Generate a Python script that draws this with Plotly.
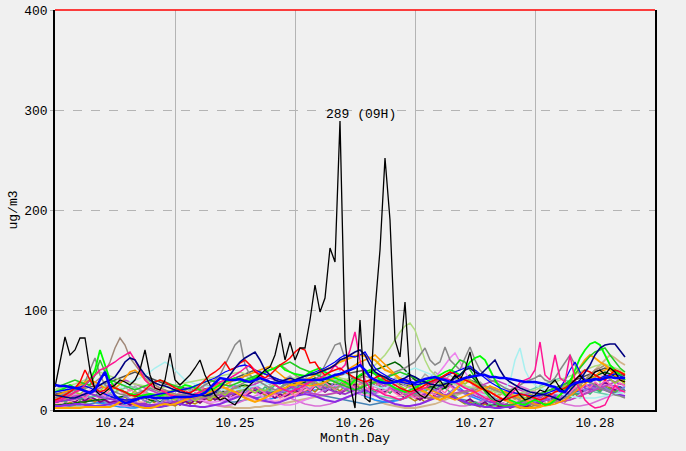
import plotly.graph_objects as go

# hourly PM values, 10.24 00H .. 10.28 18H (115 hours)
day_labels = ["10.24", "10.25", "10.26", "10.27", "10.28"]
day_centers = [12, 36, 60, 84, 108]

black_stn = [
    23, 50, 73, 55, 60, 72, 72, 40, 20, 15, 18, 22,
    25, 30, 28, 25, 30, 40, 60, 35, 22, 20, 30, 57,
    30, 25, 30, 35, 42, 50, 35, 25, 15, 10, 12, 8,
    5, 12, 20, 25, 30, 35, 40, 43, 55, 77, 50, 68,
    50, 62, 62, 90, 125, 98, 112, 162, 148, 289, 70, 25,
    2, 90, 12, 8, 100, 160, 252, 190, 70, 53, 108, 30,
    20, 15, 12, 18, 25, 30, 22, 28, 35, 30, 40, 58,
    35, 25, 20, 15, 10, 8, 12, 18, 22, 15, 10, 12,
    15, 20, 18, 25, 30, 22, 18, 25, 30, 35, 28, 32,
    38, 40, 35, 42, 38, 30, 28,
]
blue_stn = [
    25, 24, 24, 23, 22, 21, 19, 17, 20, 30, 38, 23,
    14, 10, 7, 8, 10, 12, 13, 13, 12, 12, 12, 12,
    13, 13, 13, 13, 14, 15, 17, 22, 28, 32, 31, 30,
    30, 31, 29, 28, 30, 32, 30, 28, 27, 27, 28, 28,
    29, 30, 30, 30, 30, 30, 31, 33, 35, 36, 38, 40,
    42, 45, 40, 33, 30, 28, 27, 27, 28, 29, 30, 28,
    27, 29, 31, 32, 33, 31, 30, 28, 28, 30, 32, 33,
    34, 35, 35, 33, 33, 32, 32, 31, 30, 29, 28, 28,
    28, 27, 26, 24, 23, 19, 18, 24, 27, 28, 29, 30,
    31, 30, 32, 33, 32, 32, 32,
]
navy_stn = [
    15, 14, 13, 12, 12, 14, 16, 18, 22, 25, 28, 30,
    33, 40, 48, 52, 50, 42, 35, 30, 27, 25, 24, 22,
    20, 18, 17, 16, 15, 15, 14, 15, 18, 22, 28, 35,
    42, 48, 52, 55, 58, 50, 40, 35, 30, 28, 30, 32,
    30, 32, 34, 35, 36, 38, 40, 42, 45, 50, 52, 55,
    58, 60, 55, 45, 38, 35, 33, 30, 28, 30, 32, 35,
    33, 30, 28, 26, 25, 24, 26, 28, 32, 35, 40, 42,
    38, 35, 40, 45, 50, 40, 32, 28, 25, 22, 20, 18,
    17, 16, 15, 14, 12, 10, 14, 20, 25, 30, 38, 45,
    55, 62, 65, 66, 66, 60, 53,
]
red_stn = [
    10, 12, 15, 18, 22, 28, 40, 30, 22, 18, 20, 25,
    22, 20, 18, 15, 14, 16, 20, 25, 28, 30, 28, 25,
    22, 20, 18, 17, 20, 25, 30, 35, 38, 42, 48, 40,
    42, 47, 50, 45, 38, 35, 32, 35, 40, 45, 48, 52,
    58, 62, 60, 47, 48, 40, 35, 38, 40, 42, 38, 35,
    32, 30, 28, 30, 32, 35, 30, 28, 25, 22, 20, 18,
    20, 22, 25, 28, 30, 32, 35, 38, 36, 33, 30, 28,
    25, 22, 20, 18, 15, 12, 10, 12, 14, 16, 15, 13,
    12, 10, 12, 15, 18, 20, 22, 25, 30, 35, 40, 38,
    35, 32, 30, 35, 40, 38, 35,
]
pink_stn = [
    8, 10, 12, 15, 18, 20, 25, 30, 35, 40, 42, 45,
    48, 52, 55, 58, 50, 40, 30, 25, 22, 20, 18, 15,
    14, 13, 12, 14, 16, 18, 20, 22, 25, 28, 30, 32,
    35, 38, 42, 45, 40, 35, 30, 28, 25, 22, 20, 18,
    20, 22, 25, 28, 30, 32, 35, 38, 45, 40, 45, 60,
    78, 50, 30, 22, 20, 18, 15, 14, 12, 10, 12, 15,
    18, 20, 22, 25, 28, 30, 32, 30, 28, 25, 22, 20,
    18, 15, 12, 10, 8, 10, 12, 15, 20, 28, 30, 32,
    40, 68, 35, 30, 55, 32, 28, 55, 30, 20, 10, 5,
    2, 3, 5, 15, 25, 20, 18,
]
lime_stn = [
    18, 20, 22, 25, 22, 20, 25, 30, 40, 60, 45, 30,
    22, 20, 18, 16, 15, 14, 15, 16, 15, 14, 16, 18,
    20, 22, 25, 24, 22, 20, 18, 20, 22, 25, 28, 30,
    32, 30, 28, 30, 32, 35, 38, 40, 42, 45, 40, 38,
    36, 35, 34, 38, 40, 42, 38, 35, 32, 30, 28, 25,
    30, 35, 38, 40, 36, 30, 28, 25, 22, 20, 18, 20,
    22, 25, 28, 30, 32, 35, 38, 40, 38, 35, 40, 48,
    52, 54, 50, 40, 30, 22, 15, 10, 8, 6, 5, 8,
    10, 8, 5, 6, 10, 15, 20, 28, 40, 52, 60, 66,
    68, 65, 55, 45, 40, 35, 30,
]
green_stn = [
    25, 24, 26, 28, 30, 28, 26, 25, 35, 50, 38, 30,
    28, 26, 24, 22, 20, 22, 24, 26, 28, 30, 28, 26,
    24, 22, 20, 22, 24, 26, 28, 30, 28, 26, 25, 24,
    26, 28, 30, 32, 34, 36, 38, 40, 42, 44, 46, 48,
    45, 42, 40, 38, 36, 34, 32, 30, 28, 26, 24, 22,
    20, 22, 24, 26, 28, 30, 32, 34, 36, 38, 36, 34,
    32, 30, 28, 26, 28, 30, 34, 38, 44, 50, 48, 40,
    32, 25, 18, 12, 8, 5, 4, 5, 6, 8, 10, 12,
    14, 16, 18, 20, 22, 24, 26, 30, 36, 42, 48, 54,
    58, 60, 62, 55, 48, 42, 38,
]
orange_stn = [
    2, 2, 2, 2, 2, 2, 3, 3, 3, 3, 3, 3,
    5, 8, 10, 8, 5, 3, 2, 2, 3, 5, 6, 5,
    6, 8, 10, 12, 15, 18, 20, 22, 24, 25, 22, 20,
    18, 15, 12, 10, 8, 10, 12, 15, 18, 20, 22, 25,
    25, 28, 30, 32, 35, 38, 40, 42, 45, 48, 50, 52,
    54, 55, 54, 52, 50, 45, 40, 38, 35, 30, 28, 25,
    22, 20, 18, 15, 12, 10, 12, 15, 20, 25, 30, 28,
    25, 22, 20, 18, 15, 12, 10, 8, 5, 3, 2, 2,
    2, 3, 5, 8, 10, 15, 20, 28, 35, 42, 50, 55,
    52, 48, 45, 40, 35, 30, 28,
]
darkorange_stn = [
    15, 16, 18, 20, 22, 25, 28, 30, 28, 25, 22, 20,
    22, 26, 32, 38, 40, 36, 30, 26, 22, 20, 18, 16,
    14, 13, 12, 12, 13, 14, 16, 18, 20, 22, 25, 28,
    30, 32, 34, 36, 38, 40, 42, 44, 40, 36, 32, 30,
    28, 26, 25, 24, 25, 26, 28, 30, 32, 35, 38, 42,
    45, 48, 50, 52, 55, 50, 45, 40, 36, 32, 30, 28,
    26, 24, 22, 20, 18, 16, 14, 12, 10, 12, 14, 16,
    18, 20, 22, 24, 22, 20, 18, 16, 14, 12, 10, 8,
    6, 5, 4, 5, 6, 8, 10, 14, 18, 22, 26, 30,
    34, 38, 40, 42, 40, 38, 36,
]
gray_stn = [
    12, 14, 16, 18, 20, 22, 28, 40, 52, 35, 25, 20,
    18, 16, 15, 14, 16, 18, 20, 22, 20, 18, 16, 15,
    14, 15, 16, 18, 20, 22, 25, 28, 30, 35, 45, 55,
    65, 70, 45, 35, 30, 28, 25, 22, 20, 22, 25, 28,
    30, 32, 30, 28, 30, 35, 45, 55, 65, 67, 50, 35,
    30, 28, 26, 25, 28, 30, 32, 35, 38, 40, 42, 45,
    48, 55, 62, 50, 45, 48, 63, 50, 45, 40, 52, 63,
    50, 40, 35, 30, 28, 25, 22, 20, 22, 25, 28, 30,
    32, 35, 30, 28, 32, 40, 48, 55, 45, 35, 30, 28,
    25, 22, 20, 18, 15, 14, 12,
]
brown_stn = [
    10, 12, 14, 15, 18, 20, 22, 25, 28, 32, 38, 48,
    62, 72, 65, 52, 45, 38, 32, 28, 25, 22, 20, 18,
    16, 15, 14, 13, 12, 12, 13, 14, 15, 16, 18, 20,
    22, 25, 28, 30, 32, 35, 38, 40, 42, 45, 42, 38,
    35, 32, 30, 28, 26, 25, 24, 23, 22, 24, 26, 28,
    30, 32, 34, 32, 30, 28, 26, 24, 22, 20, 18, 16,
    15, 14, 13, 12, 12, 13, 14, 15, 16, 17, 18, 19,
    20, 22, 24, 22, 20, 18, 16, 14, 12, 10, 8, 6,
    5, 4, 5, 6, 8, 10, 12, 15, 20, 25, 30, 35,
    40, 42, 45, 42, 38, 35, 32,
]
lightgreen_stn = [
    20, 22, 24, 25, 26, 28, 30, 32, 35, 38, 36, 34,
    32, 30, 28, 27, 26, 25, 24, 23, 22, 22, 23, 24,
    25, 26, 27, 28, 29, 30, 31, 32, 33, 34, 35, 36,
    37, 38, 36, 34, 32, 30, 29, 28, 28, 29, 30, 31,
    32, 33, 34, 35, 36, 36, 35, 34, 33, 32, 31, 30,
    30, 32, 35, 40, 45, 50, 55, 62, 70, 78, 84, 87,
    80, 65, 50, 40, 35, 32, 30, 28, 26, 25, 24, 23,
    22, 21, 20, 19, 18, 17, 16, 15, 16, 17, 18, 19,
    20, 22, 24, 26, 28, 30, 32, 34, 36, 38, 40, 42,
    44, 45, 46, 44, 42, 40, 38,
]
cyan_stn = [
    20, 21, 22, 23, 24, 25, 26, 27, 28, 26, 24, 22,
    20, 22, 25, 28, 30, 32, 35, 38, 42, 45, 48, 45,
    40, 35, 30, 28, 26, 25, 24, 23, 22, 21, 20, 20,
    20, 21, 22, 23, 24, 25, 26, 27, 28, 29, 30, 31,
    32, 33, 34, 35, 36, 37, 38, 39, 40, 38, 36, 34,
    32, 30, 28, 26, 24, 22, 22, 24, 28, 32, 36, 40,
    42, 40, 38, 36, 34, 32, 30, 28, 26, 24, 22, 20,
    18, 16, 15, 14, 15, 18, 22, 28, 50, 62, 40, 30,
    25, 22, 20, 18, 17, 16, 15, 14, 13, 12, 12, 12,
    12, 13, 14, 15, 16, 17, 18,
]
thinblue_stn = [
    18, 19, 20, 21, 22, 23, 24, 22, 20, 18, 16, 14,
    12, 11, 10, 10, 11, 12, 13, 14, 15, 16, 17, 18,
    19, 20, 21, 22, 24, 26, 28, 30, 32, 35, 38, 40,
    42, 44, 45, 43, 40, 38, 36, 34, 32, 30, 29, 28,
    30, 32, 34, 36, 38, 40, 42, 45, 48, 52, 55, 54,
    53, 55, 58, 50, 42, 38, 35, 32, 30, 28, 27, 26,
    25, 26, 27, 28, 30, 32, 34, 36, 38, 40, 42, 44,
    40, 36, 32, 28, 25, 22, 20, 18, 17, 16, 15, 14,
    14, 15, 16, 18, 20, 22, 30, 40, 48, 38, 30, 28,
    30, 32, 34, 35, 36, 34, 32,
]
purple_stn = [
    8, 9, 10, 10, 11, 12, 14, 16, 15, 13, 12, 11,
    10, 9, 8, 8, 7, 6, 6, 5, 5, 6, 7, 8,
    8, 9, 10, 11, 12, 14, 16, 18, 17, 15, 14, 15,
    17, 20, 22, 24, 22, 20, 18, 17, 16, 18, 20, 22,
    24, 25, 26, 28, 27, 25, 22, 20, 18, 17, 16, 18,
    20, 22, 24, 26, 28, 30, 28, 25, 22, 20, 18, 16,
    15, 14, 16, 18, 20, 22, 24, 25, 22, 20, 18, 16,
    14, 12, 10, 8, 7, 6, 5, 5, 6, 7, 8, 10,
    12, 14, 16, 18, 20, 22, 24, 26, 28, 25, 22, 20,
    22, 25, 28, 30, 28, 26, 25,
]
darkviolet_stn = [
    4, 4, 5, 5, 6, 6, 5, 5, 4, 4, 5, 6,
    7, 8, 8, 7, 6, 5, 4, 3, 3, 3, 4, 5,
    6, 6, 5, 4, 4, 3, 3, 4, 5, 6, 8, 10,
    12, 14, 15, 14, 12, 10, 9, 8, 7, 8, 10, 12,
    14, 15, 16, 15, 14, 12, 10, 9, 8, 10, 12, 14,
    16, 18, 20, 18, 15, 12, 10, 8, 6, 5, 4, 4,
    5, 6, 8, 10, 12, 14, 15, 14, 12, 10, 8, 6,
    5, 4, 3, 3, 2, 2, 3, 3, 4, 4, 5, 6,
    7, 8, 10, 12, 14, 15, 16, 18, 20, 22, 24, 25,
    24, 22, 20, 18, 16, 15, 14,
]
violet_stn = [
    12, 13, 14, 14, 15, 16, 18, 20, 18, 16, 14, 12,
    10, 9, 8, 7, 6, 6, 5, 5, 6, 7, 8, 9,
    10, 11, 12, 12, 11, 10, 9, 8, 8, 9, 10, 12,
    14, 16, 18, 20, 18, 15, 12, 10, 8, 6, 5, 5,
    6, 8, 10, 12, 15, 18, 20, 22, 25, 24, 22, 20,
    18, 16, 15, 14, 16, 18, 20, 22, 25, 28, 30, 32,
    20, 22, 25, 28, 32, 38, 45, 52, 57, 48, 38, 30,
    20, 18, 15, 12, 10, 8, 6, 5, 5, 6, 8, 10,
    12, 14, 16, 18, 16, 14, 12, 10, 12, 15, 18, 20,
    22, 24, 25, 24, 22, 20, 18,
]
darkgreen_stn = [
    5, 5, 6, 6, 7, 8, 8, 9, 10, 10, 11, 12,
    12, 13, 14, 15, 14, 13, 12, 10, 9, 8, 8, 8,
    9, 10, 11, 12, 13, 14, 15, 16, 17, 18, 19, 20,
    22, 24, 25, 24, 22, 20, 18, 17, 18, 20, 22, 24,
    25, 26, 28, 30, 32, 30, 28, 26, 25, 26, 28, 30,
    32, 34, 36, 38, 40, 42, 44, 46, 48, 45, 40, 35,
    30, 28, 26, 24, 22, 20, 22, 25, 28, 30, 32, 35,
    30, 25, 20, 15, 10, 8, 6, 5, 4, 5, 6, 8,
    10, 12, 14, 16, 18, 20, 22, 24, 26, 28, 30, 32,
    34, 36, 38, 36, 34, 32, 30,
]
seagreen_stn = [
    14, 15, 16, 17, 16, 15, 14, 13, 14, 15, 16, 17,
    18, 20, 22, 24, 22, 20, 18, 16, 15, 14, 13, 12,
    12, 13, 14, 15, 16, 17, 18, 19, 20, 21, 22, 23,
    24, 25, 24, 23, 22, 21, 20, 19, 18, 19, 20, 21,
    22, 23, 24, 25, 26, 27, 28, 29, 30, 28, 26, 24,
    22, 20, 18, 16, 15, 14, 13, 12, 11, 10, 12, 14,
    16, 18, 20, 22, 24, 26, 28, 30, 28, 26, 24, 22,
    20, 18, 16, 14, 12, 10, 10, 12, 14, 16, 18, 20,
    22, 24, 26, 28, 30, 32, 30, 28, 26, 24, 22, 20,
    18, 17, 16, 15, 16, 17, 18,
]
lightpink_stn = [
    6, 7, 8, 9, 10, 12, 14, 16, 18, 20, 18, 16,
    14, 12, 10, 9, 8, 8, 9, 10, 11, 12, 13, 14,
    15, 16, 17, 18, 19, 20, 21, 22, 23, 24, 22, 20,
    18, 16, 14, 12, 10, 9, 8, 8, 9, 10, 12, 14,
    16, 18, 20, 22, 24, 26, 28, 30, 28, 26, 24, 22,
    20, 18, 16, 15, 14, 13, 12, 12, 13, 14, 15, 16,
    17, 18, 19, 20, 21, 22, 23, 24, 25, 26, 27, 28,
    26, 24, 22, 20, 18, 16, 14, 12, 10, 9, 8, 8,
    9, 10, 12, 14, 16, 18, 20, 22, 24, 26, 28, 30,
    32, 34, 35, 34, 32, 30, 28,
]
darkgray_stn = [
    16, 17, 18, 19, 20, 21, 22, 23, 24, 25, 26, 28,
    30, 32, 34, 36, 38, 36, 34, 32, 30, 28, 26, 25,
    24, 23, 22, 21, 20, 20, 21, 22, 24, 26, 28, 30,
    32, 34, 36, 38, 40, 38, 36, 34, 32, 30, 28, 27,
    26, 27, 28, 29, 30, 31, 32, 33, 34, 35, 36, 37,
    38, 39, 40, 38, 36, 34, 32, 30, 28, 26, 25, 24,
    23, 22, 22, 23, 24, 25, 26, 27, 28, 29, 30, 30,
    28, 26, 24, 22, 20, 18, 16, 14, 13, 12, 12, 13,
    14, 16, 18, 20, 22, 24, 26, 28, 30, 32, 34, 36,
    38, 40, 42, 40, 38, 36, 34,
]
steelblue_stn = [
    3, 3, 4, 4, 5, 5, 6, 6, 7, 7, 8, 8,
    7, 6, 5, 4, 3, 3, 2, 2, 3, 3, 4, 5,
    6, 7, 8, 9, 10, 11, 12, 12, 11, 10, 9, 8,
    8, 9, 10, 11, 12, 13, 14, 15, 16, 17, 18, 19,
    20, 19, 18, 17, 16, 15, 14, 13, 12, 11, 10, 9,
    8, 7, 6, 5, 6, 7, 8, 9, 10, 11, 12, 13,
    14, 15, 16, 17, 16, 15, 14, 13, 12, 11, 10, 9,
    8, 7, 6, 5, 5, 4, 4, 5, 5, 6, 6, 7,
    8, 9, 10, 11, 12, 13, 14, 15, 16, 17, 18, 19,
    20, 21, 22, 21, 20, 19, 18,
]
dodger_stn = [
    10, 11, 12, 13, 12, 11, 10, 9, 8, 7, 6, 5,
    4, 3, 3, 2, 2, 3, 3, 4, 5, 6, 7, 8,
    9, 10, 11, 12, 13, 14, 15, 16, 17, 18, 17, 16,
    15, 14, 13, 12, 11, 10, 10, 11, 12, 13, 14, 15,
    16, 17, 18, 19, 20, 21, 22, 23, 24, 25, 22, 20,
    18, 16, 14, 12, 10, 9, 8, 8, 9, 10, 12, 14,
    16, 18, 20, 22, 24, 26, 28, 30, 26, 22, 18, 14,
    12, 10, 9, 8, 7, 6, 5, 5, 6, 7, 8, 9,
    10, 11, 12, 13, 14, 15, 16, 17, 18, 19, 20, 21,
    22, 23, 24, 25, 24, 23, 22,
]
tan_stn = [
    5, 5, 4, 4, 3, 3, 3, 4, 4, 5, 6, 7,
    8, 9, 10, 11, 12, 13, 14, 15, 16, 17, 18, 19,
    20, 18, 16, 14, 12, 10, 8, 6, 5, 4, 3, 3,
    2, 2, 2, 2, 3, 3, 4, 4, 5, 6, 7, 8,
    9, 10, 11, 12, 13, 14, 15, 16, 17, 18, 19, 20,
    18, 16, 14, 12, 10, 8, 6, 5, 4, 3, 2, 2,
    2, 3, 4, 5, 6, 8, 10, 12, 14, 16, 18, 20,
    18, 16, 14, 12, 10, 8, 6, 4, 3, 2, 2, 2,
    3, 4, 5, 6, 8, 10, 14, 18, 22, 26, 30, 35,
    40, 45, 50, 55, 52, 48, 45,
]
orchid_stn = [
    2, 3, 4, 5, 6, 8, 10, 12, 14, 12, 10, 8,
    6, 5, 4, 4, 5, 6, 8, 10, 12, 14, 16, 18,
    20, 18, 16, 14, 12, 10, 8, 6, 5, 4, 4, 5,
    6, 8, 10, 12, 14, 16, 18, 20, 18, 16, 14, 12,
    10, 8, 6, 5, 4, 4, 5, 6, 8, 10, 12, 14,
    16, 18, 20, 22, 24, 26, 28, 30, 28, 26, 24, 22,
    20, 18, 16, 14, 12, 10, 8, 6, 5, 4, 4, 5,
    6, 8, 10, 12, 14, 16, 18, 20, 22, 24, 22, 20,
    18, 16, 14, 12, 10, 8, 6, 5, 4, 4, 5, 6,
    8, 10, 12, 14, 16, 18, 20,
]
magenta_stn = [
    10, 11, 12, 13, 14, 15, 16, 18, 20, 22, 24, 25,
    26, 28, 30, 28, 26, 24, 22, 20, 18, 16, 15, 14,
    13, 12, 11, 10, 10, 11, 12, 13, 14, 15, 16, 17,
    18, 20, 22, 24, 26, 28, 30, 32, 30, 28, 26, 24,
    22, 20, 18, 17, 16, 15, 15, 16, 17, 18, 20, 22,
    24, 26, 28, 30, 28, 26, 24, 22, 20, 18, 16, 15,
    14, 13, 12, 12, 13, 14, 15, 16, 17, 18, 19, 20,
    22, 24, 26, 28, 30, 28, 26, 24, 22, 20, 18, 16,
    14, 12, 10, 9, 8, 8, 9, 10, 12, 14, 16, 18,
    20, 22, 24, 26, 28, 30, 32,
]
olive_stn = [
    12, 15, 11, 14, 18, 16, 20, 17, 22, 19, 24, 21,
    18, 22, 17, 15, 19, 14, 12, 16, 13, 11, 15, 12,
    10, 14, 11, 13, 9, 12, 15, 11, 14, 18, 15, 19,
    22, 18, 24, 20, 17, 21, 19, 23, 26, 22, 25, 28,
    24, 27, 30, 26, 29, 25, 28, 32, 27, 31, 26, 24,
    28, 23, 26, 30, 27, 32, 28, 25, 29, 24, 21, 25,
    22, 26, 29, 25, 31, 27, 24, 28, 33, 29, 26, 30,
    27, 23, 20, 24, 18, 15, 19, 14, 11, 15, 12, 16,
    13, 17, 14, 18, 22, 19, 25, 21, 28, 24, 30, 27,
    32, 28, 35, 31, 27, 30, 26,
]
plum_stn = [
    6, 9, 7, 10, 8, 12, 9, 13, 11, 8, 10, 7,
    9, 6, 8, 5, 7, 4, 6, 3, 5, 7, 4, 6,
    8, 5, 9, 6, 10, 7, 11, 14, 10, 13, 16, 12,
    15, 18, 14, 17, 20, 16, 19, 15, 12, 16, 13, 17,
    20, 17, 22, 19, 24, 21, 18, 22, 19, 16, 20, 23,
    26, 22, 25, 28, 24, 21, 18, 22, 19, 15, 12, 16,
    13, 10, 14, 11, 15, 18, 14, 17, 13, 10, 8, 11,
    7, 5, 8, 4, 6, 3, 5, 2, 4, 6, 3, 5,
    8, 6, 10, 13, 9, 14, 17, 13, 18, 21, 17, 22,
    26, 22, 28, 24, 20, 23, 19,
]
hotpink_stn = [
    14, 11, 16, 13, 18, 15, 12, 17, 22, 18, 15, 20,
    24, 19, 16, 21, 17, 13, 18, 14, 11, 15, 12, 16,
    13, 17, 20, 16, 22, 18, 25, 21, 18, 23, 19, 26,
    22, 18, 15, 19, 24, 20, 17, 13, 16, 12, 15, 18,
    14, 19, 23, 19, 26, 22, 28, 24, 20, 25, 30, 26,
    22, 27, 23, 19, 24, 20, 16, 21, 17, 14, 18, 15,
    12, 16, 13, 18, 15, 21, 17, 24, 20, 27, 23, 19,
    16, 20, 15, 12, 17, 13, 9, 14, 11, 15, 12, 9,
    13, 10, 15, 12, 18, 14, 20, 17, 23, 19, 26, 22,
    28, 24, 30, 26, 22, 27, 24,
]
silver_stn = [
    20, 23, 19, 25, 22, 27, 24, 30, 26, 22, 28, 25,
    21, 26, 23, 19, 24, 20, 17, 22, 18, 15, 20, 17,
    14, 18, 22, 19, 24, 21, 26, 23, 28, 25, 30, 27,
    32, 28, 35, 31, 27, 33, 29, 25, 30, 26, 31, 34,
    30, 35, 31, 37, 33, 29, 34, 30, 36, 32, 28, 33,
    29, 34, 38, 33, 29, 35, 31, 27, 32, 28, 24, 29,
    33, 29, 36, 32, 38, 34, 30, 35, 31, 27, 32, 28,
    24, 28, 23, 19, 22, 18, 15, 19, 16, 13, 17, 14,
    18, 15, 20, 17, 23, 19, 25, 22, 28, 24, 31, 27,
    33, 29, 36, 31, 27, 32, 28,
]
mediumsea_stn = [
    9, 12, 8, 11, 14, 10, 13, 17, 14, 19, 16, 12,
    15, 11, 14, 10, 8, 12, 9, 7, 11, 8, 12, 9,
    13, 10, 15, 12, 17, 14, 19, 16, 21, 18, 15, 20,
    17, 22, 19, 24, 21, 18, 23, 20, 25, 22, 27, 24,
    20, 25, 22, 28, 24, 21, 26, 23, 19, 24, 21, 18,
    23, 19, 16, 21, 18, 24, 20, 17, 22, 18, 15, 19,
    16, 21, 18, 23, 19, 25, 22, 18, 14, 10, 7, 5,
    8, 5, 3, 6, 4, 7, 5, 9, 6, 4, 7, 5,
    9, 7, 11, 8, 13, 10, 15, 12, 17, 14, 19, 16,
    21, 18, 23, 20, 17, 22, 19,
]
goldenrod_stn = [
    3, 6, 4, 8, 5, 9, 7, 11, 8, 12, 15, 11,
    14, 10, 13, 9, 12, 8, 6, 10, 7, 5, 9, 6,
    4, 7, 5, 8, 6, 9, 12, 9, 13, 10, 14, 17,
    13, 16, 20, 17, 21, 18, 15, 19, 16, 13, 17, 14,
    18, 15, 19, 22, 18, 23, 20, 26, 22, 19, 24, 21,
    25, 22, 19, 23, 27, 24, 20, 17, 21, 18, 15, 12,
    9, 12, 8, 11, 14, 10, 13, 16, 12, 9, 6, 8,
    5, 3, 6, 4, 2, 5, 3, 6, 4, 2, 4, 3,
    5, 3, 7, 5, 9, 12, 8, 13, 16, 12, 17, 20,
    23, 19, 25, 22, 18, 21, 17,
]
mediumpurple_stn = [
    16, 13, 17, 14, 11, 15, 12, 16, 19, 15, 12, 16,
    13, 10, 14, 11, 8, 12, 9, 13, 10, 7, 11, 8,
    12, 9, 13, 16, 12, 17, 14, 11, 15, 19, 16, 20,
    24, 20, 17, 21, 25, 22, 18, 23, 20, 17, 21, 18,
    22, 19, 24, 21, 26, 23, 19, 24, 28, 24, 21, 25,
    22, 18, 23, 20, 16, 21, 25, 21, 18, 22, 19, 15,
    19, 15, 12, 16, 20, 17, 14, 18, 22, 19, 16, 13,
    17, 13, 10, 14, 11, 8, 12, 9, 6, 10, 7, 11,
    8, 12, 9, 13, 16, 12, 17, 14, 19, 23, 19, 24,
    21, 26, 22, 19, 23, 20, 24,
]

# drawing order: background stations first, highlighted ones on top
series = [
    (tan_stn, "#d2b48c", 1.8),
    (steelblue_stn, "#4682b4", 1.5),
    (dodger_stn, "#1e90ff", 1.5),
    (goldenrod_stn, "#b8860b", 1.5),
    (orchid_stn, "#da70d6", 1.5),
    (plum_stn, "#800080", 1.8),
    (lightpink_stn, "#ffb6c1", 1.5),
    (seagreen_stn, "#66cdaa", 1.5),
    (mediumsea_stn, "#3cb371", 1.5),
    (darkgray_stn, "#505050", 1.5),
    (silver_stn, "#a9a9a9", 1.5),
    (darkgreen_stn, "#006400", 1.5),
    (violet_stn, "#ee82ee", 1.5),
    (darkviolet_stn, "#8a2be2", 2),
    (purple_stn, "#9932cc", 1.8),
    (mediumpurple_stn, "#9370db", 1.5),
    (magenta_stn, "#c040c0", 1.5),
    (hotpink_stn, "#ff69b4", 1.5),
    (olive_stn, "#9acd32", 1.5),
    (cyan_stn, "#a8f0f0", 1.5),
    (lightgreen_stn, "#b0dc80", 1.5),
    (brown_stn, "#a08878", 1.5),
    (gray_stn, "#888888", 1.5),
    (darkorange_stn, "#ff9900", 1.5),
    (orange_stn, "#ffa500", 2),
    (green_stn, "#22cc22", 1.5),
    (lime_stn, "#00ff00", 1.8),
    (thinblue_stn, "#0000ff", 1.3),
    (pink_stn, "#ff1493", 1.5),
    (red_stn, "#ff0000", 1.5),
    (navy_stn, "#000080", 1.6),
    (black_stn, "#000000", 1.3),
    (blue_stn, "#0000ff", 2.5),
]

fig = go.Figure()
for vals, color, width in series:
    fig.add_trace(go.Scatter(
        x=list(range(len(vals))),
        y=vals,
        mode="lines",
        line=dict(color=color, width=width),
        hoverinfo="skip",
    ))

peak = max(black_stn)
peak_hour = black_stn.index(peak)
fig.add_annotation(
    x=peak_hour, y=peak, text=f"{peak} ({peak_hour % 24:02d}H)",
    showarrow=False, xanchor="left", yanchor="bottom", xshift=-16, yshift=-3,
    font=dict(size=13, color="black"),
)

# red top frame line
fig.add_shape(type="line", xref="paper", yref="paper", x0=0, x1=1, y0=1, y1=1,
              line=dict(color="red", width=1.5), layer="above")

fig.update_layout(
    width=686,
    height=451,
    margin=dict(l=55, r=31, t=10, b=41),
    paper_bgcolor="#f0f0f0",
    plot_bgcolor="#f0f0f0",
    showlegend=False,
    font=dict(family="Liberation Mono", size=13, color="black"),
    xaxis=dict(
        range=[0, 120],
        tickvals=day_centers,
        ticktext=day_labels,
        showgrid=False,
        zeroline=False,
        showline=True,
        linecolor="black",
        linewidth=1.5,
        mirror=False,
        ticks="",
        automargin=False,
        minor=dict(tick0=0, dtick=24, showgrid=True, gridcolor="#b4b4b4", gridwidth=1, ticks=""),
        title=dict(text="Month.Day", standoff=2, font=dict(size=13)),
    ),
    yaxis=dict(
        range=[0, 400],
        dtick=100,
        showgrid=True,
        gridcolor="#b4b4b4",
        griddash="dash",
        zeroline=False,
        showline=True,
        linecolor="black",
        linewidth=1.5,
        mirror=True,
        ticks="outside",
        ticklen=3,
        tickcolor="#b4b4b4",
        automargin=False,
        title=dict(text="ug/m3", standoff=4, font=dict(size=13)),
    ),
)

fig.write_html(
    "out.html",
    config={"displayModeBar": False},
    post_script="document.body.style.margin='0px';",
)
